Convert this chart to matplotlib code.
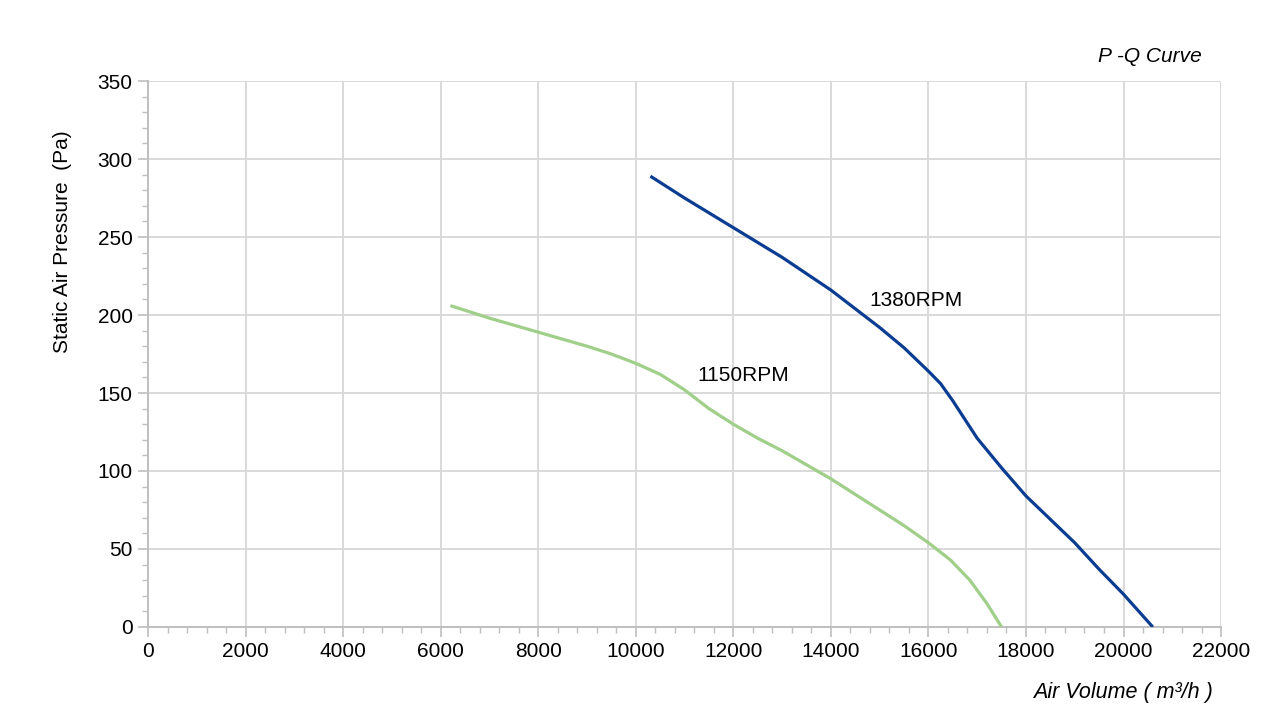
import matplotlib
matplotlib.use("Agg")
import matplotlib.pyplot as plt
from matplotlib.ticker import MultipleLocator

plt.rcParams['font.family'] = ['Liberation Sans', 'DejaVu Sans']

# P-Q curve readings (air volume m3/h, static pressure Pa)
q_1380 = [10300, 11000, 12000, 13000, 14000, 14500, 15000, 15500, 16000, 16250, 16500,
          16750, 17000, 17500, 18000, 18500, 19000, 19500, 20000, 20600]
p_1380 = [289, 275, 256, 237, 216, 204, 192, 179, 164, 156, 145,
          133, 121, 102, 84, 69, 54, 37, 21, 0]

q_1150 = [6200, 7000, 8000, 9000, 9500, 10000, 10500, 11000, 11500, 12000, 12500, 13000,
          13500, 14000, 14500, 15000, 15500, 16000, 16450, 16850, 17200, 17500]
p_1150 = [206, 198, 189, 180, 175, 169, 162, 152, 140, 130, 121, 113,
          104, 95, 85, 75, 65, 54, 43, 30, 15, 0]

labels = ["1380RPM", "1150RPM"]
label_pos = [(15750, 209), (12200, 161)]

blue = "#0a3d91"
green = "#9fcf88"
gray = "#bfbfbf"

fig = plt.figure(figsize=(12.77, 7.12), dpi=100)
ax = fig.add_axes([0.1159, 0.1194, 0.9562 - 0.1159, 0.8862 - 0.1194])

ax.plot(q_1380, p_1380, color=blue, lw=2.3, solid_capstyle='butt', solid_joinstyle='round', zorder=3)
ax.plot(q_1150, p_1150, color=green, lw=2.3, solid_capstyle='butt', solid_joinstyle='round', zorder=3)

for txt, (x, y) in zip(labels, label_pos):
    ax.text(x, y, txt, fontsize=15, ha='center', va='center', color='black')

ax.set_xlim(0, 22000)
ax.set_ylim(0, 350)
ax.xaxis.set_major_locator(MultipleLocator(2000))
ax.xaxis.set_minor_locator(MultipleLocator(400))
ax.yaxis.set_major_locator(MultipleLocator(50))
ax.yaxis.set_minor_locator(MultipleLocator(10))

ax.grid(True, which='major', color='#d9d9d9', lw=1.4, zorder=0)
ax.set_axisbelow(True)
for side in ['top', 'right']:
    ax.spines[side].set_visible(False)
for side in ['left', 'bottom']:
    ax.spines[side].set_color(gray)
    ax.spines[side].set_linewidth(1.4)

ax.tick_params(axis='both', which='major', length=7, width=1.2, color=gray, labelsize=15, pad=4)
ax.tick_params(axis='both', which='minor', length=4, width=1.0, color=gray)

fig.text(0.9413, 0.921, "P -Q Curve", fontsize=15, style='italic', ha='right', va='center')
fig.text(0.950, 0.028, "Air Volume ( m³/h )", fontsize=15.5, style='italic', ha='right', va='center')
fig.text(0.049, 0.66, "Static Air Pressure  (Pa)", fontsize=15, rotation=90, ha='center', va='center')

fig.savefig("out.png", dpi=100, facecolor='white')
